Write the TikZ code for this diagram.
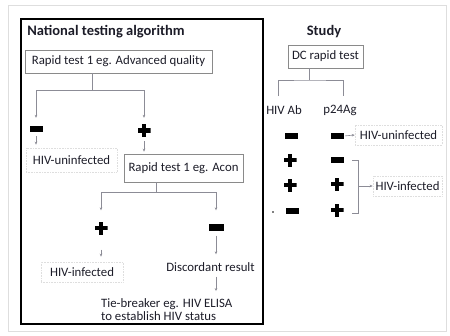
\documentclass[tikz,border=0pt]{standalone}
\usepackage{fontspec}
\setmainfont{Carlito}
\usetikzlibrary{arrows.meta}
\definecolor{txt}{HTML}{1C1C28}
\definecolor{boxc}{HTML}{8A8A8A}
\definecolor{faint}{HTML}{DEDEDE}
\definecolor{linec}{HTML}{8C8C96}
\begin{document}
\begin{tikzpicture}[x=1pt,y=-1pt,
  every node/.style={text=txt, font=\fontsize{12.8}{13.5}\selectfont, inner sep=0pt},
  ttl/.style={font=\fontsize{14.5}{17}\selectfont\bfseries},
  tbox/.style={draw=boxc, line width=0.6pt},
  fbox/.style={draw=faint, densely dotted, line width=0.6pt},
  conn/.style={draw=linec, line width=0.6pt},
  arr/.style={conn, -{Stealth[length=3pt,width=2.6pt]}},
  negsign/.style={fill=black, minimum width=13pt, minimum height=5.5pt, inner sep=0pt},
  possign/.style={minimum width=13pt, minimum height=13pt, inner sep=0pt,
    path picture={
      \fill[black] ([xshift=-6.5pt,yshift=-2.2pt]path picture bounding box.center) rectangle ([xshift=6.5pt,yshift=2.2pt]path picture bounding box.center);
      \fill[black] ([xshift=-2.2pt,yshift=-6.5pt]path picture bounding box.center) rectangle ([xshift=2.2pt,yshift=6.5pt]path picture bounding box.center);
    }},
]
\useasboundingbox (0,0) rectangle (450,335);
\draw[faint, line width=0.6pt] (8,5) rectangle (446,331);
\draw[black, line width=1.3pt] (21,19) rectangle (263,324);

% left panel
\node[ttl] (t1) at (106,32) {National testing algorithm};
\node[tbox, minimum width=187pt, minimum height=23pt] (rt1) at (118.5,61.5) {Rapid test 1 eg. Advanced quality};
\coordinate (j1) at (92,90);
\node[negsign, minimum width=13pt, minimum height=6pt] (m1) at (36,129) {};
\node[possign] (p1) at (144,130.5) {};
\node[fbox, minimum width=91pt, minimum height=24pt] (un1) at (71.5,160) {HIV-uninfected};
\node[tbox, minimum width=119pt, minimum height=28pt] (acon) at (183.5,168) {Rapid test 1 eg. Acon};
\coordinate (j2) at (156,192);
\node[possign] (p2) at (101,228) {};
\node[negsign, minimum width=15pt, minimum height=7pt] (m2) at (216,227) {};
\node[fbox, minimum width=82pt, minimum height=20pt] (inf1) at (82,272) {HIV-infected};
\node (disc) at (210.5,267) {Discordant result};
\node[align=left, anchor=west] (tie) at (101,309.5) {Tie-breaker eg. HIV ELISA\\to establish HIV status};

\draw[conn] (j1 |- rt1.south) -- (j1);
\draw[arr, shorten >=8pt] (j1) -| (m1.north);
\draw[arr, shorten >=6pt] (j1) -| (p1.north);
\draw[arr, shorten <=4pt, shorten >=3pt] (m1.south) -- (m1.south |- un1.north);
\draw[arr, shorten <=4pt, shorten >=2pt] (p1.south) -- (p1.south |- acon.north);
\draw[conn] (j2 |- acon.south) -- (j2);
\draw[arr, shorten >=11pt] (j2) -| (p2.north);
\draw[arr, shorten >=13pt] (j2) -| (m2.north);
\draw[arr, shorten <=15pt, shorten >=5pt] (p2.south) -- (p2.south |- inf1.north);
\draw[arr, shorten <=5pt, shorten >=8pt] (m2.south) -- (m2.south |- disc.north);
\draw[arr, shorten <=5pt, shorten >=7pt] (m2 |- disc.south) -- (m2 |- tie.north);

% right panel
\node[ttl] (t2) at (324,32) {Study};
\node[tbox, minimum width=75pt, minimum height=23pt] (dc) at (325.5,56.5) {DC rapid test};
\coordinate (j3) at (309,80);
\coordinate (e1) at (278,96);
\coordinate (e2) at (343,96);
\node (ab) at (284,110) {HIV Ab};
\node (ag) at (340,110) {p24Ag};
\draw[conn] (j3 |- dc.south) -- (j3);
\draw[conn] (e1) |- (j3) -| (e2);

\node[negsign] (a1) at (291,136) {};
\node[negsign] (b1) at (337,136) {};
\node[possign] (a2) at (290,160) {};
\node[negsign] (b2) at (337,160) {};
\node[possign] (a3) at (290,185) {};
\node[possign] (b3) at (337,184) {};
\node[negsign] (a4) at (292,211) {};
\node[possign] (b4) at (337,210) {};
\fill[black] (273,212) circle (0.9pt);

\node[fbox, minimum width=87pt, minimum height=20pt] (un2) at (398.5,135) {HIV-uninfected};
\draw[arr, shorten <=1.5pt] (b1.east) -- (un2.west);
\coordinate (bt) at (352,160);
\coordinate (bb) at (352,213);
\coordinate (bm) at (358,186);
\draw[conn] (bt) -- (bt -| bm) -- (bb -| bm) -- (bb);
\node[fbox, minimum width=69pt, minimum height=20pt] (inf2) at (407.5,186) {HIV-infected};
\draw[arr] (bm) -- (inf2.west);
\end{tikzpicture}
\end{document}
